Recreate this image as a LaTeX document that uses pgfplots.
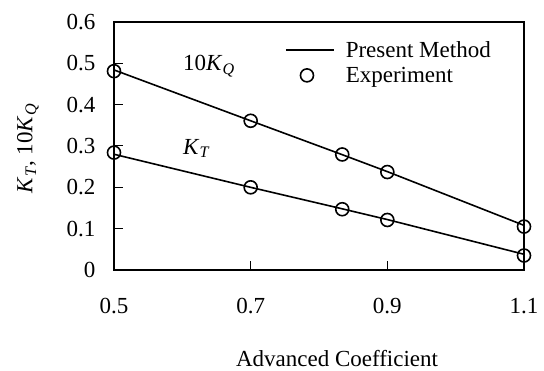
\documentclass[border=0pt]{standalone}
\usepackage{fontspec}
\setmainfont{Liberation Serif}
\usepackage{pgfplots}
\pgfplotsset{compat=1.18}
\begin{document}
\begin{tikzpicture}[font=\fontsize{23bp}{27bp}\selectfont]
\begin{axis}[name=ax, scale only axis, width=410bp, height=248bp,
 xmin=0.5, xmax=1.1, ymin=0, ymax=0.6,
 xtick={0.5,0.7,0.9,1.1}, ytick={0,0.1,0.2,0.3,0.4,0.5,0.6},
 tick align=inside, xtick pos=bottom, ytick pos=left, major tick length=9bp,
 tick style={line width=1bp, black},
 axis line style={line width=1.8bp, black},
 /pgf/number format/assume math mode=true,
 /pgf/number format/fixed, /pgf/number format/precision=1,
 xticklabel style={yshift=-25bp},
 yticklabel style={xshift=-15bp},
 xlabel={Advanced Coefficient},
 xlabel style={at={(axis description cs:0.544,-0.39)}, anchor=base},
 ylabel={\textit{K}\textsubscript{\textit{T}}, 10\textit{K}\textsubscript{\textit{Q}}},
 ylabel style={at={(axis description cs:-0.21,0.49)}, anchor=center},
 legend style={at={(axis description cs:0.417,0.93)}, anchor=north west, draw=none, fill=none, inner sep=0pt, row sep=4bp, column sep=9bp, nodes={inner sep=2bp}},
 legend cell align=left,
 clip=false,
]
\addplot[black, line width=1.6bp, legend image code/.code={\draw[line width=1.6bp] (0bp,0bp) -- (48bp,0bp);}]
 coordinates {(0.5,0.484) (0.7,0.361) (0.834,0.279) (0.9,0.238) (1.1,0.108)};
\addlegendentry{Present Method}
\addplot[black, line width=1.6bp, forget plot]
 coordinates {(0.5,0.280) (0.7,0.200) (0.834,0.148) (0.9,0.122) (1.1,0.038)};
\addplot[black, only marks, mark=o, mark size=6.5bp, mark options={line width=1.6bp},
 legend image code/.code={\draw[black, line width=1.6bp, mark=o, mark size=6.5bp] plot[only marks] coordinates {(21bp,0bp)};}]
 coordinates {(0.5,0.481) (0.7,0.361) (0.834,0.2795) (0.9,0.237) (1.1,0.105)};
\addlegendentry{Experiment}
\addplot[black, only marks, mark=o, mark size=6.5bp, mark options={line width=1.6bp}, forget plot]
 coordinates {(0.5,0.284) (0.7,0.200) (0.834,0.147) (0.9,0.121) (1.1,0.035)};
\node[anchor=base west, inner sep=0pt] at (axis cs:0.601,0.483) {10\textit{K}\textsubscript{\textit{Q}}};
\node[anchor=base west, inner sep=0pt] at (axis cs:0.601,0.280) {\textit{K}\textsubscript{\textit{T}}};
\end{axis}
\path (ax.south west) ++(-114bp,-100bp) (ax.north east) ++(20bp,22bp);
\end{tikzpicture}
\end{document}
